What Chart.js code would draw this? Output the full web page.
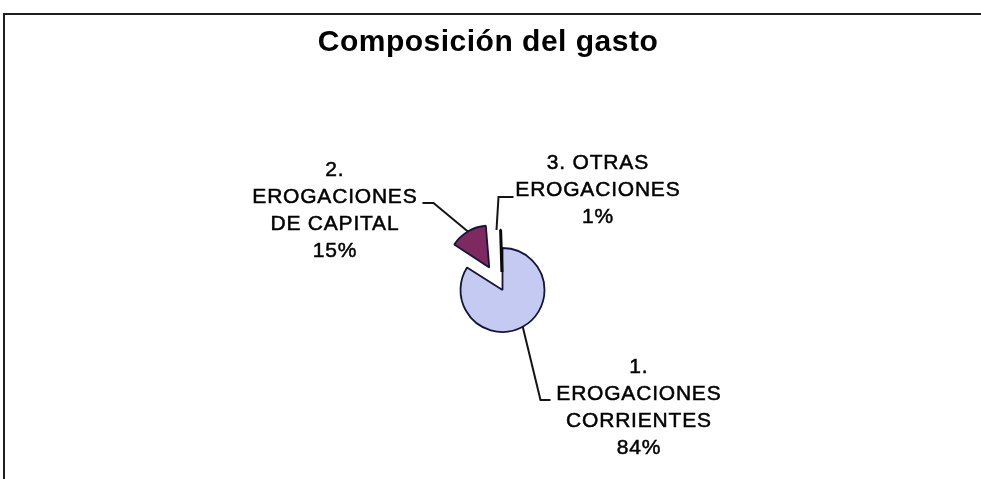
<!DOCTYPE html>
<html>
<head>
<meta charset="utf-8">
<script src="https://cdn.jsdelivr.net/npm/chart.js@4.4.1/dist/chart.umd.min.js"></script>
<style>
html,body{margin:0;padding:0;background:#fff;}
#wrap{width:981px;height:479px;position:relative;}
</style>
</head>
<body>
<div id="wrap"><canvas id="c" width="981" height="479"></canvas></div>
<script>
// ---- Data ----
const title = 'Composición del gasto';
const categories = ['1. EROGACIONES CORRIENTES', '2. EROGACIONES DE CAPITAL', '3. OTRAS EROGACIONES'];
const values = [84, 15, 1];
const labelLines = [
  ['1.', 'EROGACIONES', 'CORRIENTES'],
  ['2.', 'EROGACIONES', 'DE CAPITAL'],
  ['3. OTRAS', 'EROGACIONES']
];
const sliceColors = ['#c4caf1', '#7e2a60', '#ffffcc'];
const sliceBorders = ['#15153a', '#15153a', '#0a0a0a'];
const sliceBorderWidths = [1.8, 1.8, 3];
// Chart.js arc offset option (the element translates by offset/4)
const sliceOffsets = [0, 104, 72];
const pieRadius = 42;

// label placement relative to pie centre (annotation layout, not data)
const labelLayout = [
  { dx: 136, dy: 77,  path: [[38, 110], [48, 110]] },
  { dx: -168, dy: -120, path: [[-69, -87], [-80, -87]] },
  { dx: 95,  dy: -127, path: [[-6, -60], [-4, -93], [11, -93]] }
];

const total = values.reduce((a, b) => a + b, 0);

const labelPlugin = {
  id: 'labels',
  afterDatasetUpdate(chart, args) {
    // keep exploded slices at the same radius as the main slice
    args.meta.data.forEach((arc, i) => {
      const circ = arc.endAngle - arc.startAngle;
      const fix = 1 - Math.sin(Math.min(Math.PI, circ));
      arc.outerRadius = pieRadius - (sliceOffsets[i] / 4) * fix;
    });
  },
  beforeDraw(chart) {
    const ctx = chart.ctx;
    ctx.save();
    ctx.strokeStyle = '#1e1e1e';
    ctx.lineWidth = 2;
    ctx.beginPath();
    ctx.moveTo(4, 479);
    ctx.lineTo(4, 14);
    ctx.lineTo(981, 14);
    ctx.stroke();
    ctx.fillStyle = '#000';
    ctx.font = 'bold 30px "Liberation Sans", Arial, sans-serif';
    ctx.textAlign = 'center';
    ctx.textBaseline = 'middle';
    ctx.letterSpacing = '0.5px';
    ctx.fillText(title, 488, 43);
    ctx.restore();
  },
  afterDatasetsDraw(chart) {
    const ctx = chart.ctx;
    const meta = chart.getDatasetMeta(0);
    ctx.save();
    meta.data.forEach((arc, i) => {
      const cx = arc.x, cy = arc.y;
      const mid = (arc.startAngle + arc.endAngle) / 2;
      const off = sliceOffsets[i] / 4;
      const ox = cx + Math.cos(mid) * off;
      const oy = cy + Math.sin(mid) * off;
      const ax = ox + Math.cos(mid) * pieRadius;
      const ay = oy + Math.sin(mid) * pieRadius;
      const L = labelLayout[i];
      ctx.strokeStyle = '#151515';
      ctx.lineWidth = 2;
      ctx.beginPath();
      if (i === 2) {
        ctx.moveTo(cx + L.path[0][0], cy + L.path[0][1]);
        L.path.slice(1).forEach(pt => ctx.lineTo(cx + pt[0], cy + pt[1]));
      } else {
        ctx.moveTo(ax, ay);
        L.path.forEach(pt => ctx.lineTo(cx + pt[0], cy + pt[1]));
      }
      ctx.stroke();
      const lines = labelLines[i].concat([Math.round(values[i] / total * 100) + '%']);
      ctx.fillStyle = '#000';
      ctx.strokeStyle = '#000';
      ctx.lineWidth = 0.5;
      ctx.font = '21px "Liberation Sans", Arial, sans-serif';
      ctx.letterSpacing = '0.8px';
      ctx.textAlign = 'center';
      ctx.textBaseline = 'middle';
      lines.forEach((t, k) => {
        const tx = cx + L.dx + 0.4, ty = cy + L.dy + k * 27;
        ctx.fillText(t, tx, ty);
        ctx.strokeText(t, tx, ty);
      });
    });
    ctx.restore();
  }
};

new Chart(document.getElementById('c'), {
  type: 'pie',
  data: {
    labels: categories,
    datasets: [{
      data: values,
      backgroundColor: sliceColors,
      borderColor: sliceBorders,
      borderWidth: sliceBorderWidths,
      offset: sliceOffsets
    }]
  },
  options: {
    responsive: false,
    animation: false,
    radius: pieRadius,
    layout: { padding: { left: 24, right: 0, top: 101, bottom: 0 } },
    plugins: {
      legend: { display: false },
      title: { display: false },
      tooltip: { enabled: false }
    }
  },
  plugins: [labelPlugin]
});
</script>
</body>
</html>
